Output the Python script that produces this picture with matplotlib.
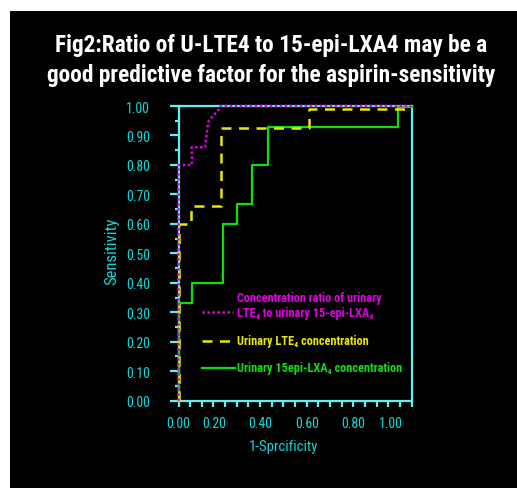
import numpy as np
import matplotlib
matplotlib.use('Agg')
import matplotlib.pyplot as plt
from matplotlib import font_manager
from matplotlib.patches import Rectangle
from matplotlib.lines import Line2D

# ROC curves: 1-specificity (x) vs sensitivity (y)
ratio_x = [0.0, 0.0, 0.057, 0.057, 0.114, 0.125, 0.13, 0.175, 0.18, 1.0]
ratio_y = [0.0, 0.80, 0.80, 0.86, 0.86, 0.93, 0.95, 0.99, 1.0, 1.0]

lte4_x = [0.0, 0.0, 0.052, 0.052, 0.181, 0.181, 0.558, 0.558, 1.0]
lte4_y = [0.0, 0.60, 0.60, 0.66, 0.66, 0.925, 0.925, 0.99, 0.99]

lxa4_x = [0.0, 0.0, 0.057, 0.057, 0.19, 0.19, 0.253, 0.253, 0.315, 0.315,
          0.383, 0.383, 0.943, 0.943, 1.0]
lxa4_y = [0.0, 0.333, 0.333, 0.40, 0.40, 0.60, 0.60, 0.667, 0.667, 0.80,
          0.80, 0.93, 0.93, 0.995, 0.995]

y_ticks = np.round(np.arange(0, 1.001, 0.1), 2)
x_tick_labels = ['0.00', '0.20', '0.40', '0.60', '0.80', '1.00']
x_label_pos = [0.0, 0.153, 0.351, 0.553, 0.751, 0.910]

title_lines = ['Fig2:Ratio of U-LTE4 to 15-epi-LXA4 may be a',
               'good predictive factor for the aspirin-sensitivity']

# narrow sans font, whichever is installed
names = {f.name for f in font_manager.fontManager.ttflist}
pref = ['Roboto Condensed', 'Liberation Sans Narrow', 'Arial Narrow', 'PT Sans Narrow',
        'Asap Condensed']
narrow = next((p for p in pref if p in names), 'DejaVu Sans')
plt.rcParams['font.family'] = [narrow, 'DejaVu Sans']
plt.rcParams['font.stretch'] = 'condensed'

CYAN = '#5ff0f0'
CYAN_TXT = '#10d8d8'
MAGENTA = '#e000e0'
YELLOW = '#e8e800'
GREEN = '#10dd10'


def fx(px):
    return px / 517


def fy(py):
    return 1 - py / 489


fig = plt.figure(figsize=(5.17, 4.89), dpi=100, facecolor='white')
fig.patches.append(Rectangle((fx(10), 0), 1, fy(12), transform=fig.transFigure,
                             facecolor='black', edgecolor='none', zorder=-1))

ax = fig.add_axes([fx(178.5), fy(401.7), 233 / 517, 294.7 / 489])
ax.set_facecolor('black')
ax.set_xlim(0, 1)
ax.set_ylim(0, 1)

ax.plot(lxa4_x, lxa4_y, color=GREEN, lw=1.6, zorder=3, clip_on=False)
ax.plot(lte4_x, lte4_y, color=YELLOW, lw=1.8, ls=(0, (4, 3)), zorder=4, clip_on=False)
ax.plot(ratio_x, ratio_y, color=MAGENTA, lw=1.8, ls=(0, (1, 1)), zorder=5, clip_on=False)

for s in ax.spines.values():
    s.set_color(CYAN)
    s.set_linewidth(1.6)

ax.set_yticks(y_ticks)
ax.set_yticklabels([f'{v:.2f}' for v in y_ticks])
ax.set_yticks(np.arange(0.05, 1.0, 0.1), minor=True)
ax.tick_params(axis='y', which='major', direction='out', length=6.5, width=1.6,
               color=CYAN, labelcolor=CYAN_TXT, labelsize=10, pad=14)
ax.tick_params(axis='y', which='minor', direction='out', length=3, width=1.6, color=CYAN)

ax.xaxis.remove_overlapping_locs = False
ax.set_xticks(np.arange(0, 1.001, 0.05))
ax.set_xticklabels([])
ax.set_xticks(x_label_pos, minor=True)
ax.set_xticklabels(x_tick_labels, minor=True)
ax.tick_params(axis='x', which='major', direction='out', length=4, width=1.6, color=CYAN)
ax.tick_params(axis='x', which='minor', length=0, labelcolor=CYAN_TXT, labelsize=10, pad=11)

fig.text(fx(111.5), fy(251), 'Sensitivity', rotation=90, color=CYAN_TXT,
         fontsize=12, ha='center', va='center')
fig.text(fx(283), fy(447), '1-Sprcificity', color=CYAN_TXT,
         fontsize=10.5, ha='center', va='center')

# legend drawn by hand
fig.add_artist(Line2D([fx(202), fx(233)], [fy(313), fy(313)], color=MAGENTA, lw=1.8,
                      ls=(0, (1, 1))))
fig.add_artist(Line2D([fx(202), fx(237)], [fy(342), fy(342)], color=YELLOW, lw=1.8,
                      ls=(0, (4, 3))))
fig.add_artist(Line2D([fx(202), fx(235)], [fy(369), fy(369)], color=GREEN, lw=1.6))
kw = dict(fontsize=8.8, fontweight='bold', ha='left', va='center')
fig.text(fx(237), fy(299), 'Concentration ratio of urinary', color=MAGENTA, **kw)
fig.text(fx(237), fy(314), 'LTE\u2084 to urinary 15-epi-LXA\u2084', color=MAGENTA, **kw)
fig.text(fx(237), fy(342), 'Urinary LTE\u2084 concentration', color=YELLOW, **kw)
fig.text(fx(237), fy(369), 'Urinary 15epi-LXA\u2084 concentration', color=GREEN, **kw)

# title lines, shrunk to their widths
renderer = fig.canvas.get_renderer()
for line, x0, base, width in [(title_lines[0], 55, 52, 432), (title_lines[1], 47, 82, 451)]:
    t = fig.text(fx(x0), fy(base), line, color='white', fontsize=19, fontweight='bold',
                 ha='left', va='baseline')
    w = t.get_window_extent(renderer).width
    t.set_fontsize(19 * width / w)

fig.savefig('out.png', dpi=100, facecolor='white')
